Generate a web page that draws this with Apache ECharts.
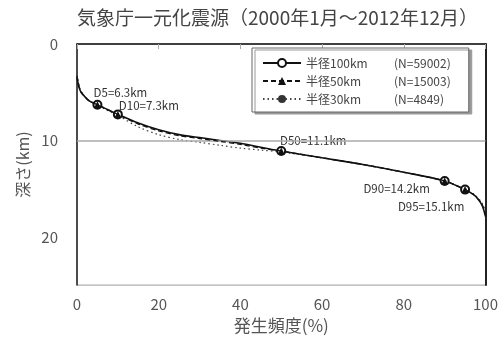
<!DOCTYPE html>
<html>
<head>
<meta charset="utf-8">
<script src="https://cdn.jsdelivr.net/npm/echarts@6/dist/echarts.min.js"></script>
<style>html,body{margin:0;padding:0;background:#fff;}#c{width:501px;height:339px;}</style>
</head>
<body>
<div id="c"></div>
<script>
// ---- data ----
const titleText = '気象庁一元化震源（2000年1月～2012年12月）';
const xName = '発生頻度(%)';
const yName = '深さ(km)';
const seriesNames = ['半径100km', '半径50km', '半径30km'];
const seriesCounts = ['(N=59002)', '(N=15003)', '(N=4849)'];
const freq = [0, 0.5, 1, 2, 3, 5, 7, 10, 15, 20, 25, 30, 35, 40, 45, 50, 60, 70, 80, 90, 95, 97, 98, 99, 99.5, 100];
const depth100 = [3.5, 4.5, 5.0, 5.5, 5.9, 6.3, 6.7, 7.3, 8.2, 8.9, 9.4, 9.7, 10.0, 10.3, 10.7, 11.1, 11.8, 12.5, 13.3, 14.2, 15.1, 15.6, 16.0, 16.6, 17.1, 17.9];
const depth50  = [3.3, 4.4, 5.0, 5.5, 5.9, 6.3, 6.7, 7.3, 8.3, 9.0, 9.5, 9.8, 10.1, 10.4, 10.8, 11.1, 11.8, 12.5, 13.3, 14.2, 15.1, 15.6, 16.0, 16.5, 17.0, 17.6];
const depth30  = [3.2, 4.3, 4.9, 5.5, 5.9, 6.3, 6.8, 7.4, 8.6, 9.4, 9.9, 10.2, 10.5, 10.8, 11.0, 11.2, 11.8, 12.5, 13.3, 14.2, 15.1, 15.5, 15.9, 16.4, 16.8, 17.4];
const markerFreq = [5, 10, 50, 90, 95];
const markerLabels = ['D5=6.3km', 'D10=7.3km', 'D50=11.1km', 'D90=14.2km', 'D95=15.1km'];
const xTicks = [0, 20, 40, 60, 80, 100];
const yTicks = [0, 10, 20];
const gridDepth = 10;

// ---- chart ----
const FONT = "'Noto Sans CJK JP', 'Noto Sans', sans-serif";
const labelShift = [[23, -12], [31, -9], [32, -10], [-48, 8], [-34, 17]];

function build(depths, withLabels) {
  return freq.map((f, i) => {
    const k = markerFreq.indexOf(f);
    const item = { value: [f, depths[i]] };
    if (withLabels && k >= 0) {
      item.label = {
        show: true, position: 'inside', formatter: markerLabels[k],
        color: '#333', fontSize: 11.5, lineHeight: 11, fontFamily: FONT
      };
    }
    return item;
  });
}
function symSize(size) {
  return function (v) { return markerFreq.indexOf(v[0]) >= 0 ? size : 0; };
}

const chart = echarts.init(document.getElementById('c'), null, { renderer: 'canvas' });
chart.setOption({
  animation: false,
  backgroundColor: '#fff',
  textStyle: { fontFamily: FONT },
  title: {
    text: titleText, left: 72, top: 3,
    textStyle: { fontSize: 19, fontWeight: 'normal', color: '#444', fontFamily: FONT }
  },
  grid: { left: 77, right: 15, top: 44, bottom: 49, show: true, borderColor: '#999', borderWidth: 1 },
  legend: {
    orient: 'vertical', left: 252, top: 48,
    padding: [9, 18, 7, 10], itemGap: 6, itemWidth: 38, itemHeight: 10,
    backgroundColor: '#fff', borderColor: '#666', borderWidth: 1,
    shadowColor: '#999', shadowOffsetX: 3, shadowOffsetY: 2, shadowBlur: 0,
    data: seriesNames,
    formatter: function (name) {
      const i = seriesNames.indexOf(name);
      return '{a|' + name + '}{b|' + seriesCounts[i] + '}';
    },
    textStyle: {
      color: '#444', fontSize: 12, fontFamily: FONT,
      rich: { a: { width: 88, fontSize: 12, color: '#444', fontFamily: FONT }, b: { fontSize: 12, color: '#444', fontFamily: FONT } }
    }
  },
  xAxis: {
    type: 'value', min: 0, max: 100, interval: 20,
    name: xName, nameLocation: 'middle', nameGap: 30,
    nameTextStyle: { fontSize: 17, color: '#555', fontFamily: FONT },
    axisLine: { show: true, lineStyle: { color: '#111', width: 1.5 } },
    axisTick: { show: true, inside: false, length: 5, lineStyle: { color: '#aaa' } },
    axisLabel: { fontSize: 15, color: '#555', margin: 12, fontFamily: FONT,
      formatter: v => xTicks.indexOf(v) >= 0 ? String(v) : '' },
    splitLine: { show: false }
  },
  yAxis: [{
    type: 'value', min: 0, max: 25, interval: 10, inverse: true,
    name: yName, nameLocation: 'middle', nameGap: 43, nameRotate: 90,
    nameTextStyle: { fontSize: 16, color: '#555', fontFamily: FONT },
    axisLine: { show: true, lineStyle: { color: '#222', width: 1.5 } },
    axisTick: { show: false },
    axisLabel: { fontSize: 15, color: '#555', margin: 19, fontFamily: FONT,
      formatter: v => yTicks.indexOf(v) >= 0 ? String(v) : '' },
    splitLine: { show: false }
  }, {
    type: 'value', min: 0, max: 25, interval: 10, inverse: true, position: 'right',
    axisLine: { show: true, lineStyle: { color: '#222', width: 2 } },
    axisTick: { show: false }, axisLabel: { show: false }, splitLine: { show: false }
  }],
  series: [{
    name: seriesNames[0], type: 'line', data: build(depth100, true),
    smooth: 0.3, symbol: 'emptyCircle', symbolSize: symSize(8),
    lineStyle: { color: '#111', width: 1.6, type: 'solid' },
    itemStyle: { color: '#111', borderWidth: 2 },
    labelLayout: function (p) {
      const k = markerFreq.indexOf(freq[p.dataIndex]);
      if (k < 0) return {};
      return { dx: labelShift[k][0], dy: labelShift[k][1], hideOverlap: false, moveOverlap: false };
    },
    z: 4,
    markLine: {
      silent: true, symbol: ['none', 'none'], label: { show: false },
      lineStyle: { color: '#aaa', width: 1.5, type: 'solid' },
      data: [{ yAxis: gridDepth }]
    }
  }, {
    name: seriesNames[1], type: 'line', data: build(depth50, false),
    smooth: 0.3, symbol: 'triangle', symbolSize: symSize(7),
    lineStyle: { color: '#111', width: 1.3, type: [5, 3] },
    itemStyle: { color: '#111' }, z: 5
  }, {
    name: seriesNames[2], type: 'line', data: build(depth30, false),
    smooth: 0.3, symbol: 'circle', symbolSize: symSize(4),
    lineStyle: { color: '#444', width: 1.2, type: [1.5, 3] },
    itemStyle: { color: '#333' }, z: 2
  }]
});
</script>
</body>
</html>
